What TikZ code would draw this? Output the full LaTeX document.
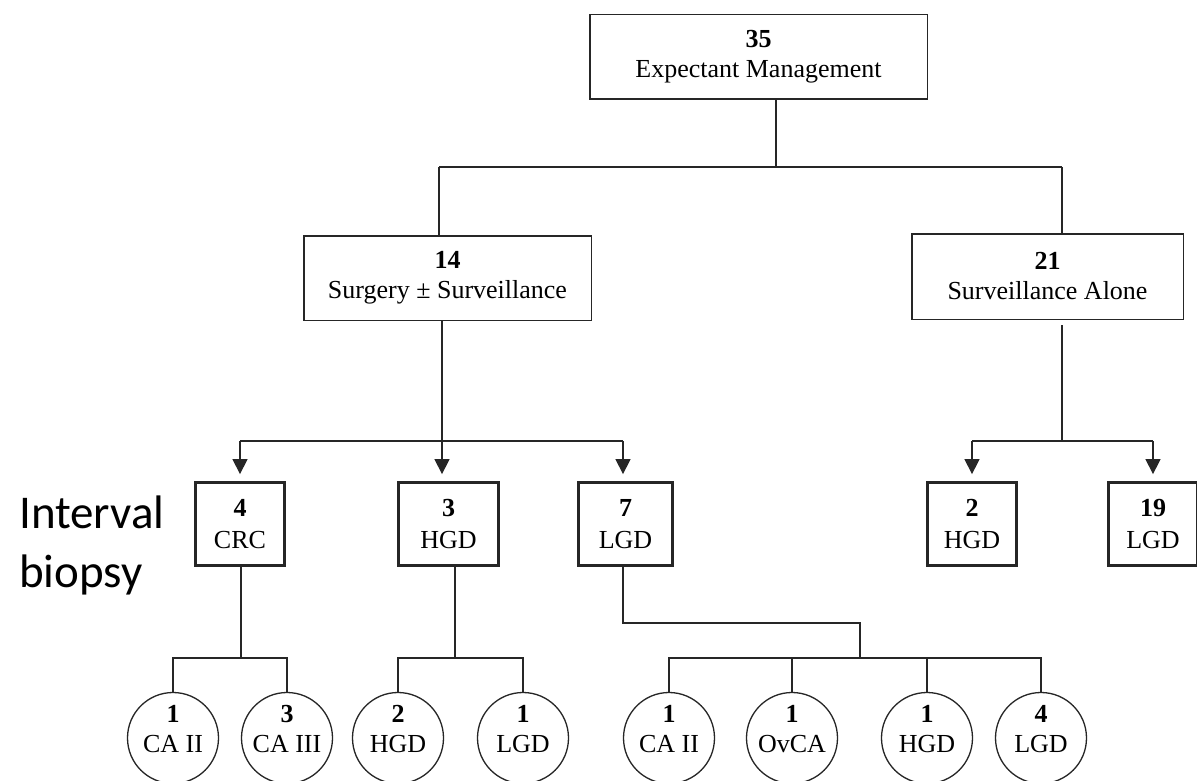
\documentclass[tikz,border=0pt]{standalone}
\usepackage{fontspec}
\setmainfont{Liberation Serif}
\newfontfamily\calibrifont{Carlito}
\usetikzlibrary{arrows.meta}
\newcommand\diagfont{\fontsize{26}{30}\selectfont}
\newcommand\leaffont{\fontsize{26}{32}\selectfont}
\begin{document}
\begin{tikzpicture}[x=1pt,y=-1pt,
  box/.style={draw=black!85, rectangle, inner sep=0pt, line width=1.5pt, align=center, font=\diagfont},
  leaf/.style={box, line width=2.8pt, minimum width=89pt, minimum height=83pt, font=\leaffont},
  circ/.style={draw=black!85, circle, inner sep=0pt, minimum size=91pt, line width=1.3pt},
  ctxt/.style={align=center, font=\diagfont, yshift=9pt, inner sep=0pt},
  conn/.style={draw=black!85, line width=1.3pt},
  arr/.style={conn, -{Triangle[width=15pt,length=15pt]}, shorten >=7pt}
]
\useasboundingbox[fill=white] (0,0) rectangle (1197,781);

% level 1
\node[box, minimum width=337.5pt, minimum height=84.5pt] (top) at (758.5,57) {\textbf{35}\\Expectant Management};
% level 2
\node[box, minimum width=287.5pt, minimum height=84.5pt] (s14) at (447.5,278) {\textbf{14}\\Surgery ± Surveillance};
\node[box, minimum width=271.5pt, minimum height=85.5pt] (s21) at (1047.5,276.5) {\textbf{21}\\Surveillance Alone};
% level 3
\node[leaf] (crc) at (240,524) {\textbf{4}\\CRC};
\node[leaf, minimum width=100pt] (hgd3) at (448.5,524) {\textbf{3}\\HGD};
\node[leaf, minimum width=94pt] (lgd7) at (625.5,524) {\textbf{7}\\LGD};
\node[leaf] (hgd2) at (972,524) {\textbf{2}\\HGD};
\node[leaf] (lgd19) at (1153,524) {\textbf{19}\\LGD};
% side label
\node[font=\calibrifont\fontsize{47}{59}\selectfont, align=left, anchor=base west, inner sep=0pt] (lbl) at (19,587) {Interval\\biopsy};
% level 4
\node[circ, label={[ctxt]center:{\textbf{1}\\CA II}}] (c1) at (173,738) {};
\node[circ, label={[ctxt]center:{\textbf{3}\\CA III}}] (c2) at (287,738) {};
\node[circ, label={[ctxt]center:{\textbf{2}\\HGD}}] (c3) at (398,738) {};
\node[circ, label={[ctxt]center:{\textbf{1}\\LGD}}] (c4) at (523,738) {};
\node[circ, label={[ctxt]center:{\textbf{1}\\CA II}}] (c5) at (669,738) {};
\node[circ, label={[ctxt]center:{\textbf{1}\\OvCA}}] (c6) at (792,738) {};
\node[circ, label={[ctxt]center:{\textbf{1}\\HGD}}] (c7) at (927,738) {};
\node[circ, label={[ctxt]center:{\textbf{4}\\LGD}}] (c8) at (1041,738) {};

% junctions
\coordinate (j1) at (776,167);
\coordinate (j14) at (439,167);
\coordinate (j21) at (1062,167);
\coordinate (j2) at (442,441);
\coordinate (j2l) at (240,441);
\coordinate (j2r) at (623,441);
\coordinate (j3) at (1062,441);
\coordinate (j3l) at (972,441);
\coordinate (j3r) at (1153,441);
\coordinate (k1) at (241,658);
\coordinate (k2) at (455,658);
\coordinate (k3a) at (623,623);
\coordinate (k3) at (860,658);

% connectors level 1 -> 2
\draw[conn] (top.south -| j1) -- (j1);
\draw[conn] (j14) -- (j21);
\draw[conn] (j14) -- (j14 |- s14.north);
\draw[conn] (j21) -- (j21 |- s21.north);
% level 2 -> 3
\draw[conn] (s14.south -| j2) -- (j2);
\draw[conn] (j2l) -- (j2r);
\draw[arr] (j2l) -- (crc.north);
\draw[arr] (j2) -- (j2 |- hgd3.north);
\draw[arr] (j2r) -- (j2r |- lgd7.north);
\draw[conn, shorten <=5pt] (s21.south -| j3) -- (j3);
\draw[conn] (j3l) -- (j3r);
\draw[arr] (j3l) -- (hgd2.north);
\draw[arr] (j3r) -- (lgd19.north);
% level 3 -> 4
\draw[conn] (k1 |- crc.south) -- (k1);
\draw[conn] (c1.north) |- (k1);
\draw[conn] (c2.north) |- (k1);
\draw[conn] (k2 |- hgd3.south) -- (k2);
\draw[conn] (c3.north) |- (k2);
\draw[conn] (c4.north) |- (k2);
\draw[conn] (k3a |- lgd7.south) -- (k3a) -| (k3);
\draw[conn] (c5.north) |- (k3);
\draw[conn] (c8.north) |- (k3);
\draw[conn] (c6.north) -- (c6.north |- k3);
\draw[conn] (c7.north) -- (c7.north |- k3);
\end{tikzpicture}
\end{document}
